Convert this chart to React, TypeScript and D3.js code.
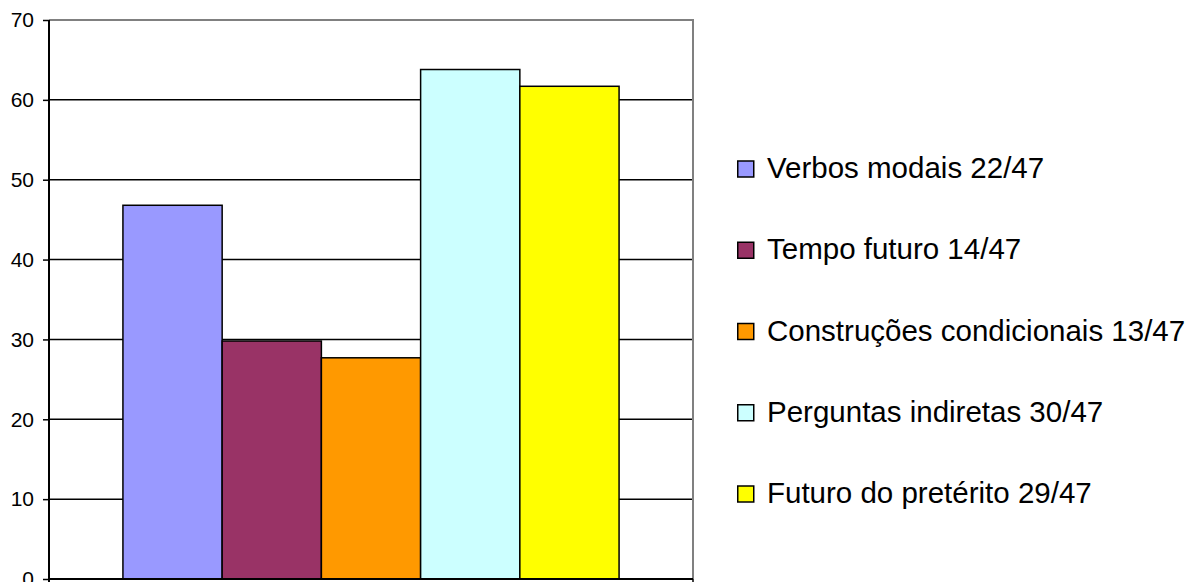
import React, { useRef, useEffect } from 'react';
import * as d3 from 'd3';

const seriesLabels = [
    'Verbos modais 22/47',
    'Tempo futuro 14/47',
    'Construções condicionais 13/47',
    'Perguntas indiretas 30/47',
    'Futuro do pretérito 29/47',
];
const seriesValues = [46.8, 29.8, 27.7, 63.8, 61.7];
const seriesColors = ['#9999ff', '#993366', '#ff9900', '#ccffff', '#ffff00'];
const yTicks = [0, 10, 20, 30, 40, 50, 60, 70];

const App: React.FC = () => {
    const svgRef = useRef<SVGSVGElement | null>(null);
    const width = 1188;
    const height = 582;

    useEffect(() => {
        const svg = d3.select(svgRef.current);
        svg.selectAll('*').remove();

        const margin = { top: 20, right: 495, bottom: 3, left: 49 };
        const plotRight = width - margin.right;
        const plotBottom = height - margin.bottom;

        const y = d3.scaleLinear().domain([0, 70]).range([plotBottom, margin.top]);

        // single category, five series side by side
        const x0 = d3.scaleBand<string>()
            .domain(['g'])
            .range([margin.left, plotRight])
            .paddingInner(0)
            .paddingOuter(0.149);
        const x1 = d3.scaleBand<number>()
            .domain(d3.range(seriesValues.length))
            .range([0, x0.bandwidth()]);

        const g = svg.append('g');

        // gridlines
        g.selectAll('.grid')
            .data(yTicks.filter(t => t > 0 && t < 70))
            .enter()
            .append('line')
            .attr('x1', margin.left)
            .attr('x2', plotRight)
            .attr('y1', d => y(d))
            .attr('y2', d => y(d))
            .style('stroke', '#000')
            .style('stroke-width', '1.5px');

        // top and right frame
        g.append('path')
            .attr('d', `M${margin.left},${y(70)}H${plotRight}V${plotBottom}`)
            .style('fill', 'none')
            .style('stroke', '#808080')
            .style('stroke-width', '2px');

        // bars
        g.selectAll('.bar')
            .data(seriesValues)
            .enter()
            .append('rect')
            .attr('x', (d, i) => (x0('g') as number) + (x1(i) as number))
            .attr('y', d => y(d))
            .attr('width', x1.bandwidth())
            .attr('height', d => plotBottom - y(d))
            .style('fill', (d, i) => seriesColors[i])
            .style('stroke', '#000')
            .style('stroke-width', '1.5px');

        // y axis
        const yAxis = d3.axisLeft(y)
            .tickValues(yTicks)
            .tickSize(6)
            .tickPadding(9)
            .tickFormat(d3.format('d'));
        const ya = g.append('g')
            .attr('transform', `translate(${margin.left},0)`)
            .call(yAxis);
        ya.select('.domain').remove();
        ya.selectAll('.tick line').style('stroke', '#000').style('stroke-width', '1.5px');
        ya.selectAll('.tick text')
            .style('font-family', '"Liberation Sans", Arial, sans-serif')
            .style('font-size', '21px')
            .style('fill', '#000');

        g.append('line')
            .attr('x1', margin.left)
            .attr('x2', margin.left)
            .attr('y1', y(70))
            .attr('y2', plotBottom + 6)
            .style('stroke', '#000')
            .style('stroke-width', '2px');

        // x axis baseline with category ticks
        g.append('line')
            .attr('x1', margin.left)
            .attr('x2', plotRight)
            .attr('y1', plotBottom)
            .attr('y2', plotBottom)
            .style('stroke', '#000')
            .style('stroke-width', '2px');
        g.append('line')
            .attr('x1', plotRight)
            .attr('x2', plotRight)
            .attr('y1', plotBottom)
            .attr('y2', plotBottom + 6)
            .style('stroke', '#000')
            .style('stroke-width', '1.5px');

        // legend
        const legend = svg.append('g').attr('transform', 'translate(737, 178)');
        seriesLabels.forEach((label, idx) => {
            const row = legend.append('g')
                .attr('transform', `translate(0, ${idx * 81.25})`);
            row.append('rect')
                .attr('x', 0.75)
                .attr('y', -17)
                .attr('width', 16)
                .attr('height', 16)
                .style('fill', seriesColors[idx])
                .style('stroke', '#000')
                .style('stroke-width', '1.5px');
            row.append('text')
                .attr('x', 30)
                .attr('y', 0)
                .style('font-family', '"Liberation Sans", Arial, sans-serif')
                .style('font-size', '29.5px')
                .style('fill', '#000')
                .text(label);
        });
    }, []);

    return (
        <div style={{ position: 'absolute', left: 0, top: 0, background: '#fff' }}>
            <svg ref={svgRef} width={width} height={height} style={{ display: 'block' }}></svg>
        </div>
    );
};

export default App;
